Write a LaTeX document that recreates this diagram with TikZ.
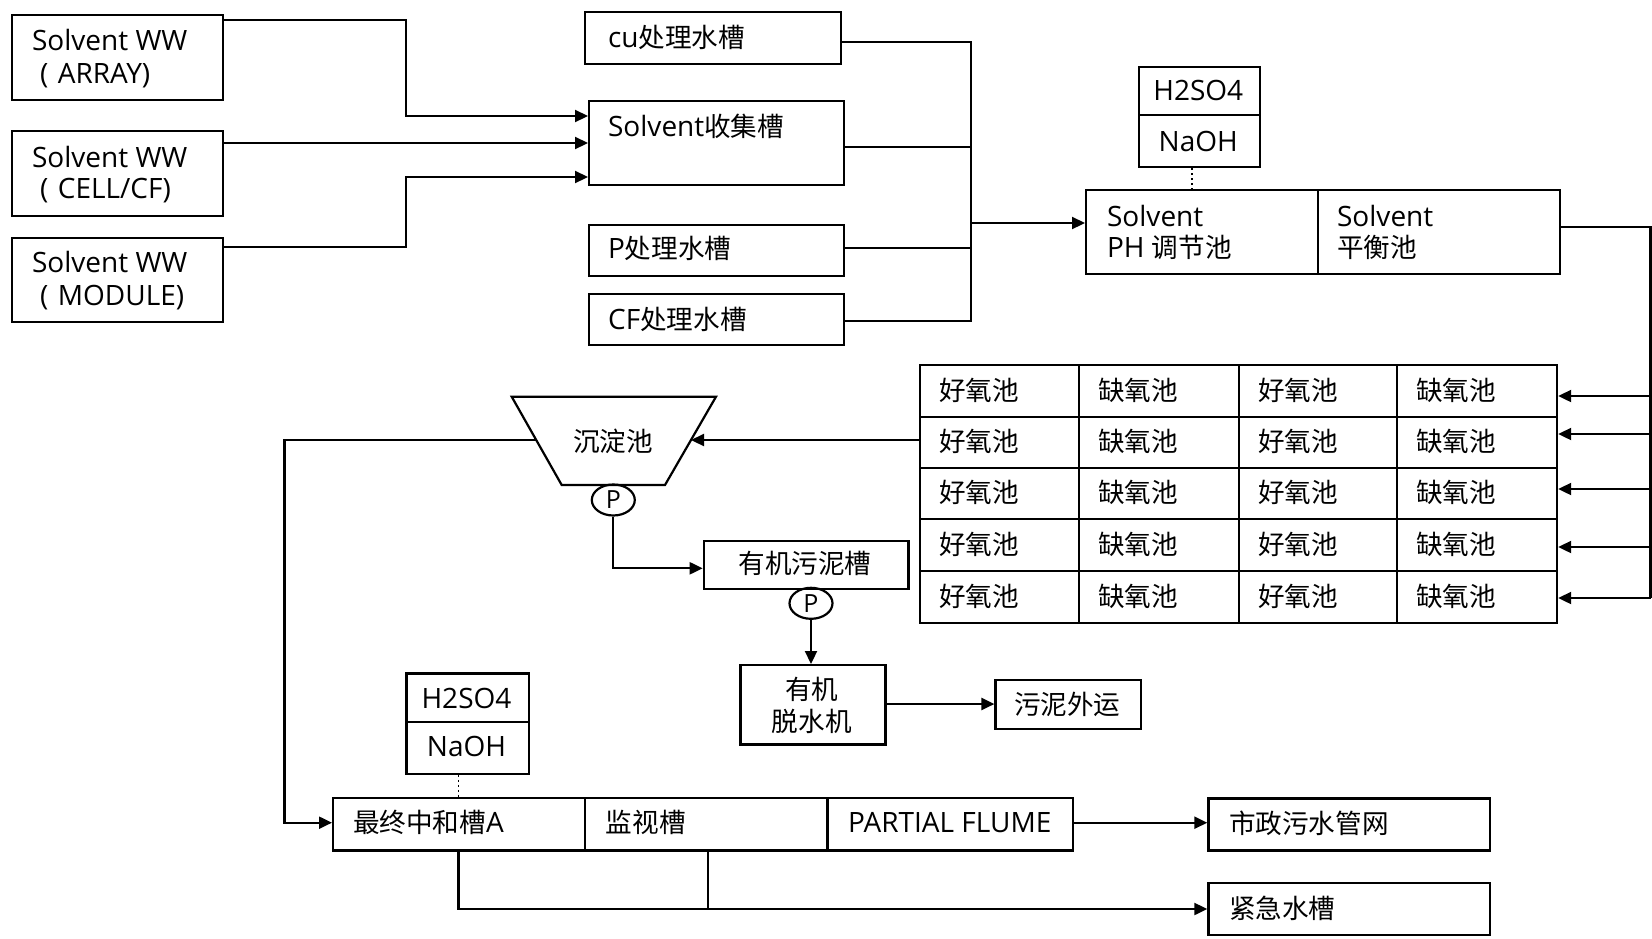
\documentclass[tikz,border=0pt]{standalone}
\usepackage{fontspec}
\setmainfont{Open Sans}
\newfontfamily\cjk[Scale=0.95]{Noto Sans CJK SC}
\usetikzlibrary{arrows.meta,shapes.geometric}
\newcommand\fs{\fontsize{28}{32}\selectfont}
\newcommand\mybox[5]{\node[box, minimum width=#4pt, minimum height=#5pt] (#1) at (#2,#3) {};}
\newcommand\lpar{\hspace*{8pt}(\hspace{9.5pt}}
\begin{document}
\begin{tikzpicture}[x=1pt,y=-1pt,line width=2.2pt,
  box/.style={draw, line width=2.2pt, inner sep=0pt, anchor=north west},
  t/.style={inner sep=0pt, anchor=base west, font=\fs},
  tc/.style={inner sep=0pt, anchor=base, font=\fs},
  arrow/.style={-{Triangle[length=13pt,width=12pt]}},
  dot/.style={line width=1.8pt, dash pattern=on 2pt off 3pt},
  pump/.style={draw, ellipse, inner sep=0pt, minimum width=43pt, minimum height=31pt, font=\fontsize{25}{28}\selectfont}]
\fill[white] (0,0) rectangle (1652,938);
\useasboundingbox (0,0) rectangle (1652,938);

% sources
\mybox{bArr}{11}{14}{211}{85}
\mybox{bCell}{11}{130}{211}{85}
\mybox{bMod}{11}{237}{211}{84}
\node[t] (tA1) at (31,50.7) {Solvent WW};
\node[t] (tA2) at (31,83) {\lpar ARRAY)};
\node[t] (tC1) at (31,167) {Solvent WW};
\node[t] (tC2) at (31,198) {\lpar CELL/CF)};
\node[t] (tM1) at (31,272) {Solvent WW};
\node[t] (tM2) at (31,305) {\lpar MODULE)};

% tanks
\mybox{bCu}{584}{11}{256}{52}
\mybox{bColl}{588}{100}{255}{84}
\mybox{bP}{588}{224}{255}{51}
\mybox{bCF}{588}{293}{255}{51}
\node[t] (tCu) at (607,47) {cu{\cjk 处理水槽}};
\node[t] (tColl) at (607,136) {Solvent{\cjk 收集槽}};
\node[t] (tP) at (607,258) {P{\cjk 处理水槽}};
\node[t] (tCF) at (607,329) {CF{\cjk 处理水槽}};

% chemicals top
\mybox{bH2a}{1137.5}{66}{121.5}{48}
\mybox{bNaa}{1137.5}{114}{121.5}{52}
\node[tc] (tH2a) at (1198.25,100) {H2SO4};
\node[tc] (tNaa) at (1198.25,151.7) {NaOH};

% PH / balance
\mybox{bPH}{1085}{189}{231.5}{84}
\mybox{bBal}{1316.5}{189}{242}{84}
\node[t] (tPH1) at (1106,226.7) {Solvent};
\node[t] (tPH2) at (1106,257) {PH {\cjk 调节池}};
\node[t] (tBal1) at (1336,226.7) {Solvent};
\node[t] (tBal2) at (1336,257) {{\cjk 平衡池}};

% grid
\foreach \r/\ya/\yb in {1/364/416, 2/416/467, 3/467/518, 4/518/570, 5/570/622} {
  \foreach \c/\xa/\xb/\lab in {1/919/1078/好氧池, 2/1078/1238/缺氧池, 3/1238/1396/好氧池, 4/1396/1556/缺氧池} {
    \pgfmathsetmacro\w{\xb-\xa}
    \pgfmathsetmacro\h{\yb-\ya}
    \node[box, minimum width=\w pt, minimum height=\h pt] (g-\r-\c) at (\xa,\ya) {};
    \node[t] (gt-\r-\c) at ({\xa+19},{(\ya+\yb)/2+10}) {\cjk \lab};
  }
}

% settling tank
\coordinate (s1) at (511.7,396.7);
\coordinate (s2) at (716,396.7);
\coordinate (s3) at (665,485);
\coordinate (s4) at (561.7,485);
\draw (s1) -- (s2) -- (s3) -- (s4) -- cycle;
\coordinate (sL) at (536,440);
\coordinate (sR) at (691,440);
\node[tc] (tSettle) at (613,451.5) {\cjk 沉淀池};
\node[pump] (p1) at (613.3,500) {P};

% sludge
\mybox{bSl}{702.7}{540}{204.6}{47.7}
\node[tc] (tSl) at (805,573) {\cjk 有机污泥槽};
\node[pump] (p2) at (811,603.3) {P};
\mybox{bDew}{739.3}{664}{145}{79.3}
\node[tc] (tDew1) at (811.8,699) {\cjk 有机};
\node[tc] (tDew2) at (811.8,731) {\cjk 脱水机};
\mybox{bOut}{994.4}{679}{145.6}{49}
\node[t] (tOut) at (1013,714) {\cjk 污泥外运};

% chemicals bottom
\mybox{bH2b}{405.3}{672.3}{122.4}{48.7}
\mybox{bNab}{405.3}{721}{122.4}{51.7}
\node[tc] (tH2b) at (466.5,708) {H2SO4};
\node[tc] (tNab) at (466.5,756.7) {NaOH};

% bottom row
\mybox{bNeu}{332}{796.7}{252}{52.6}
\mybox{bMon}{584}{796.7}{242.4}{52.6}
\mybox{bFlu}{826.4}{796.7}{245.6}{52.6}
\node[t] (tNeu) at (352,832) {{\cjk 最终中和槽}A};
\node[t] (tMon) at (604.7,832) {\cjk 监视槽};
\node[t] (tFlu) at (847,832.7) {PARTIAL FLUME};
\mybox{bCity}{1207.3}{797.3}{281.7}{52}
\mybox{bEm}{1207.3}{881.7}{281.7}{52.3}
\node[t] (tCity) at (1228,833) {\cjk 市政污水管网};
\node[t] (tEm) at (1228,918) {\cjk 紧急水槽};

% connectors
\draw[arrow] (bArr.east |- 0,20) -| (406,116) -- (bColl.west |- 0,116);
\draw[arrow] (bCell.east |- 0,143) -- (bColl.west |- 0,143);
\draw[arrow] (bMod.east |- 0,247) -| (406,177) -- (bColl.west |- 0,177);
\draw (bCu.east |- 0,42) -| (971,321) -- (bCF.east |- 0,321);
\draw (bColl.east |- 0,147) -- (971,147);
\draw (bP.east |- 0,248) -- (971,248);
\draw[arrow] (971,223) -- (bPH.west |- 0,223);
\draw[dot] (bNaa.south -| 1192,0) -- (bPH.north -| 1192,0);
\draw (bBal.east |- 0,227) -| (1650.5,598);
\foreach \r/\y in {1/396,2/434,3/489,4/547,5/598}
  \draw[arrow] (1650.5,\y) -- (g-\r-4.east |- 0,\y);
\draw[arrow] (g-2-1.west |- 0,440) -- (sR);
\draw[arrow] (sL) -| (284.4,822.7) -- (bNeu.west |- 0,822.7);
\draw[arrow] (p1.south) |- (bSl.west |- 0,568.3);
\draw[arrow] (p2.south) -- (p2.south |- bDew.north);
\draw[arrow] (bDew.east |- 0,704) -- (bOut.west |- 0,704);
\draw[dot] (bNab.south -| 458.4,0) -- (bNeu.north -| 458.4,0);
\draw[arrow] (bFlu.east |- 0,822.7) -- (bCity.west |- 0,822.7);
\draw[arrow] (bNeu.south -| 458.4,0) |- (bEm.west |- 0,909);
\draw (bMon.south -| 708,0) -- (708,909);
\end{tikzpicture}
\end{document}
